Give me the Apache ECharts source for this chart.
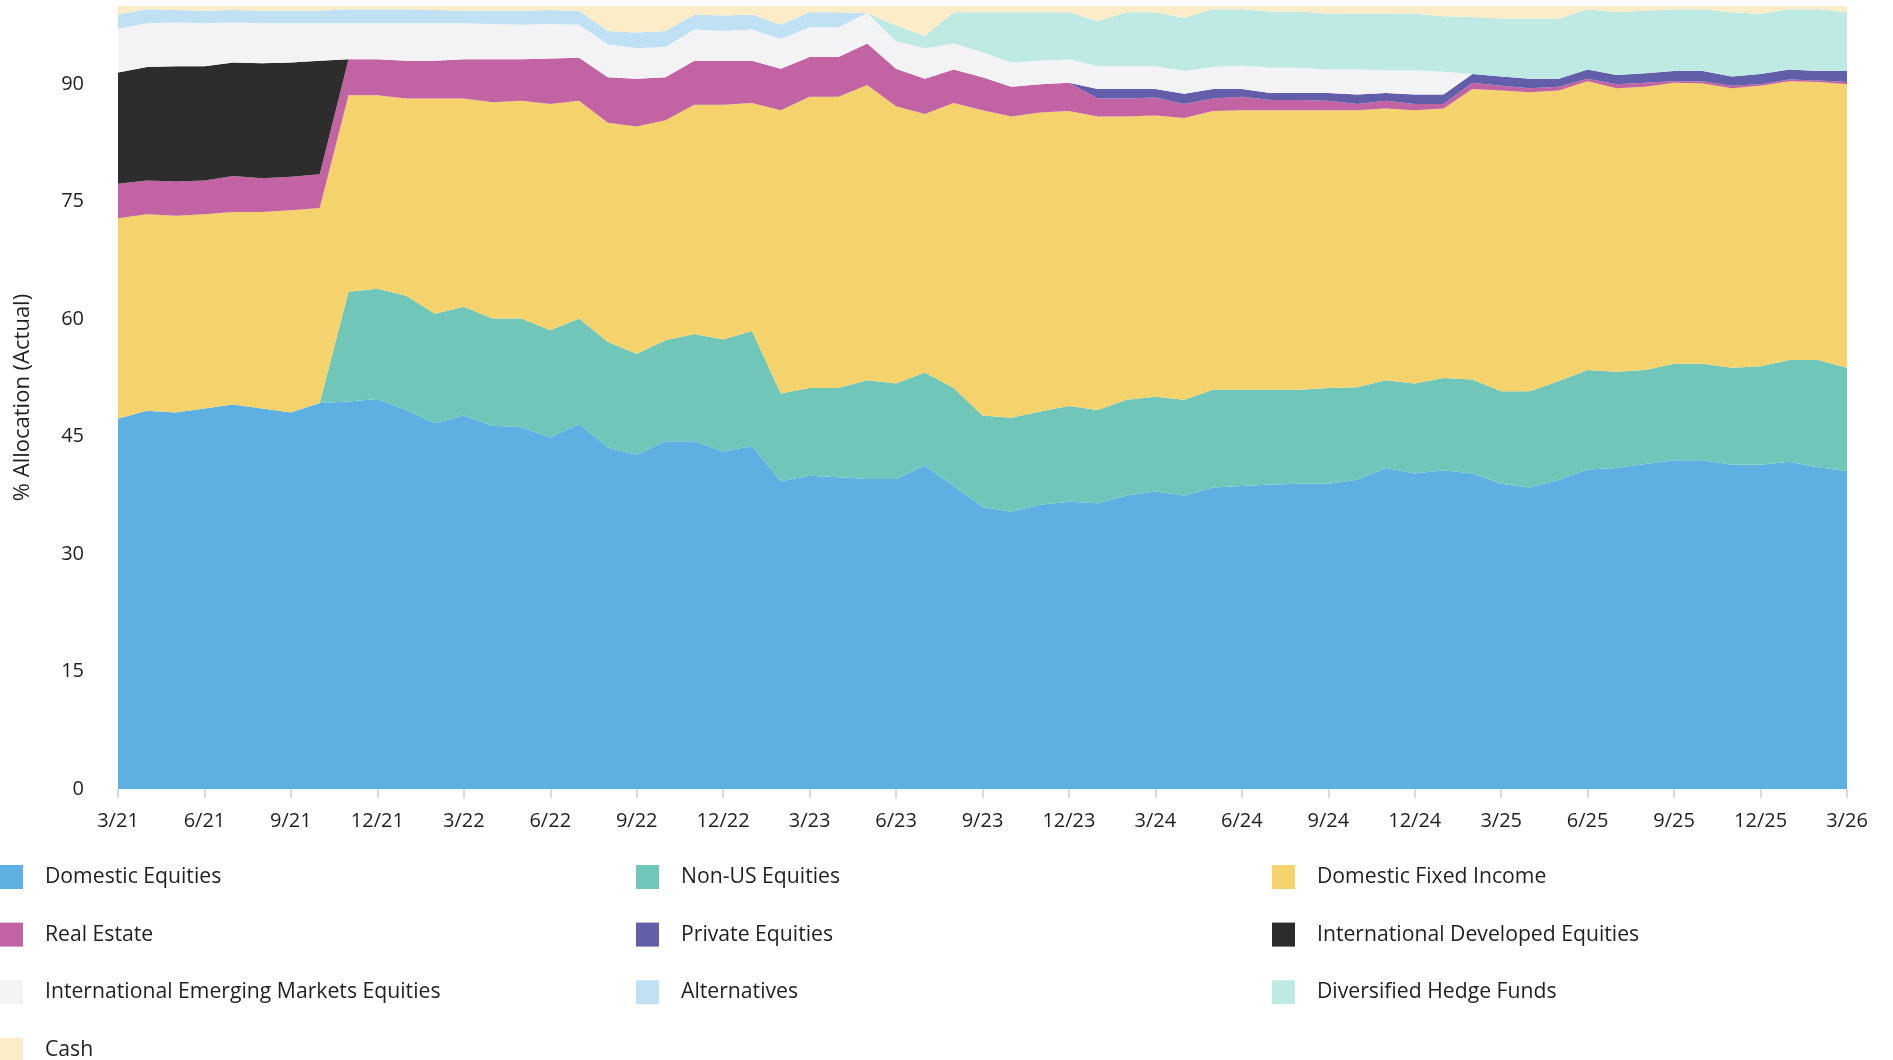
<!DOCTYPE html>
<html>
<head>
<meta charset="utf-8">
<title>% Allocation (Actual)</title>
<script src="https://cdn.jsdelivr.net/npm/echarts@6/dist/echarts.min.js"></script>
<style>
  html, body { margin: 0; padding: 0; background: #fff; }
  #myChart { width: 1893px; height: 1060px; }
</style>
</head>
<body>
<div id="myChart"></div>
<script>
// month labels, 3/21 .. 3/26
const months = [
  '3/21', '4/21', '5/21', '6/21', '7/21', '8/21', '9/21', '10/21', '11/21', '12/21',
  '1/22', '2/22', '3/22', '4/22', '5/22', '6/22', '7/22', '8/22', '9/22', '10/22', '11/22', '12/22',
  '1/23', '2/23', '3/23', '4/23', '5/23', '6/23', '7/23', '8/23', '9/23', '10/23', '11/23', '12/23',
  '1/24', '2/24', '3/24', '4/24', '5/24', '6/24', '7/24', '8/24', '9/24', '10/24', '11/24', '12/24',
  '1/25', '2/25', '3/25', '4/25', '5/25', '6/25', '7/25', '8/25', '9/25', '10/25', '11/25', '12/25',
  '1/26', '2/26', '3/26'
]

// allocation in %, bottom layer first
const domesticEquities = [
  47.3, 48.3, 48.1, 48.6, 49.1, 48.6, 48.1, 49.3, 49.5, 49.8,
  48.4, 46.7, 47.7, 46.4, 46.2, 44.9, 46.6, 43.6, 42.7, 44.4,
  44.4, 43.1, 43.8, 39.3, 40.0, 39.8, 39.6, 39.6, 41.3, 38.7,
  36.0, 35.4, 36.3, 36.7, 36.5, 37.5, 38.0, 37.5, 38.5, 38.7,
  38.9, 39.0, 39.0, 39.5, 41.0, 40.3, 40.7, 40.3, 39.0, 38.5,
  39.5, 40.8, 41.0, 41.5, 42.0, 42.0, 41.4, 41.4, 41.8, 41.1,
  40.6
]
const nonUsEquities = [
  0, 0, 0, 0, 0, 0, 0, 0, 14.0, 14.1,
  14.6, 14.0, 13.9, 13.7, 13.9, 13.7, 13.5, 13.5, 12.9, 12.9,
  13.7, 14.3, 14.7, 11.2, 11.2, 11.4, 12.6, 12.2, 11.9, 12.5,
  11.7, 12.0, 11.9, 12.2, 11.9, 12.2, 12.1, 12.2, 12.5, 12.3,
  12.1, 12.0, 12.2, 11.8, 11.2, 11.5, 11.8, 12.0, 11.8, 12.3,
  12.6, 12.7, 12.3, 12.0, 12.3, 12.3, 12.4, 12.6, 13.0, 13.7,
  13.2
]
const domesticFixedIncome = [
  25.6, 25.1, 25.1, 24.8, 24.6, 25.1, 25.8, 24.9, 25.1, 24.7,
  25.2, 27.5, 26.6, 27.6, 27.8, 28.9, 27.8, 28.0, 29.0, 28.1,
  29.3, 30.0, 29.1, 36.2, 37.2, 37.2, 37.7, 35.4, 33.0, 36.4,
  39.0, 38.5, 38.2, 37.7, 37.5, 36.2, 35.9, 36.0, 35.6, 35.7,
  35.7, 35.7, 35.5, 35.4, 34.7, 34.9, 34.4, 37.1, 38.4, 38.2,
  37.1, 36.9, 36.2, 36.2, 35.9, 35.8, 35.7, 35.8, 35.6, 35.5,
  36.2
]
const realEstate = [
  4.4, 4.3, 4.4, 4.3, 4.6, 4.3, 4.3, 4.3, 4.6, 4.6,
  4.8, 4.8, 5.0, 5.5, 5.3, 5.8, 5.5, 5.8, 6.1, 5.5,
  5.6, 5.6, 5.4, 5.3, 5.1, 5.1, 5.3, 4.8, 4.5, 4.3,
  4.2, 3.8, 3.6, 3.6, 2.3, 2.3, 2.3, 1.8, 1.6, 1.7,
  1.3, 1.3, 1.2, 0.8, 1.0, 0.8, 0.6, 0.8, 0.6, 0.5,
  0.5, 0.3, 0.5, 0.5, 0.2, 0.3, 0.3, 0.2, 0.2, 0.2,
  0.3
]
const privateEquities = [
  0, 0, 0, 0, 0, 0, 0, 0, 0, 0,
  0, 0, 0, 0, 0, 0, 0, 0, 0, 0,
  0, 0, 0, 0, 0, 0, 0, 0, 0, 0,
  0, 0, 0, 0, 1.2, 1.2, 1.1, 1.3, 1.2, 1.0,
  0.9, 0.9, 1.0, 1.2, 1.0, 1.2, 1.2, 1.1, 1.2, 1.2,
  1.0, 1.2, 1.2, 1.2, 1.3, 1.3, 1.2, 1.3, 1.3, 1.2,
  1.4
]
const intlDevelopedEquities = [
  14.2, 14.5, 14.7, 14.6, 14.5, 14.7, 14.6, 14.5, 0, 0,
  0, 0, 0, 0, 0, 0, 0, 0, 0, 0,
  0, 0, 0, 0, 0, 0, 0, 0, 0, 0,
  0, 0, 0, 0, 0, 0, 0, 0, 0, 0,
  0, 0, 0, 0, 0, 0, 0, 0, 0, 0,
  0, 0, 0, 0, 0, 0, 0, 0, 0, 0,
  0
]
const intlEmergingEquities = [
  5.6, 5.6, 5.6, 5.5, 5.1, 5.1, 5.0, 4.8, 4.6, 4.6,
  4.8, 4.8, 4.6, 4.5, 4.4, 4.4, 4.2, 4.2, 3.9, 3.9,
  4.0, 3.8, 4.0, 3.8, 3.8, 3.8, 3.9, 3.5, 3.9, 3.3,
  3.2, 3.1, 3.0, 3.0, 2.9, 2.9, 2.9, 2.9, 2.8, 3.0,
  3.2, 3.2, 3.0, 3.2, 2.9, 3.1, 2.9, 0, 0, 0,
  0, 0, 0, 0, 0, 0, 0, 0, 0, 0,
  0
]
const alternatives = [
  1.8, 1.8, 1.6, 1.6, 1.6, 1.6, 1.6, 1.6, 1.8, 1.8,
  1.8, 1.7, 1.6, 1.7, 1.8, 1.8, 1.8, 1.7, 2.0, 2.0,
  1.9, 2.0, 1.9, 1.8, 1.9, 1.9, 0, 0, 0, 0,
  0, 0, 0, 0, 0, 0, 0, 0, 0, 0,
  0, 0, 0, 0, 0, 0, 0, 0, 0, 0,
  0, 0, 0, 0, 0, 0, 0, 0, 0, 0,
  0
]
const hedgeFunds = [
  0, 0, 0, 0, 0, 0, 0, 0, 0, 0,
  0, 0, 0, 0, 0, 0, 0, 0, 0, 0,
  0, 0, 0, 0, 0, 0, 0, 2.0, 1.6, 4.0,
  5.1, 6.4, 6.2, 6.0, 5.8, 6.9, 6.9, 6.8, 7.4, 7.2,
  7.2, 7.2, 7.1, 7.1, 7.2, 7.2, 7.1, 7.3, 7.4, 7.7,
  7.7, 7.7, 8.0, 8.0, 7.9, 7.9, 8.2, 7.7, 7.7, 7.9,
  7.5
]
const cash = [
  1.1, 0.4, 0.5, 0.6, 0.5, 0.6, 0.6, 0.6, 0.4, 0.4,
  0.4, 0.5, 0.6, 0.6, 0.6, 0.5, 0.6, 3.2, 3.4, 3.2,
  1.1, 1.2, 1.1, 2.4, 0.8, 0.8, 0.9, 2.5, 3.8, 0.8,
  0.8, 0.8, 0.8, 0.8, 1.9, 0.8, 0.8, 1.5, 0.4, 0.4,
  0.7, 0.7, 1.0, 1.0, 1.0, 1.0, 1.3, 1.4, 1.6, 1.6,
  1.6, 0.4, 0.8, 0.6, 0.4, 0.4, 0.8, 1.0, 0.4, 0.4,
  0.8
]

const layers = [
  { name: 'Domestic Equities', data: domesticEquities, color: '#5eb0e2' },
  { name: 'Non-US Equities', data: nonUsEquities, color: '#70c7b9' },
  { name: 'Domestic Fixed Income', data: domesticFixedIncome, color: '#f5d36c' },
  { name: 'Real Estate', data: realEstate, color: '#c263a4' },
  { name: 'Private Equities', data: privateEquities, color: '#635ea9' },
  { name: 'International Developed Equities', data: intlDevelopedEquities, color: '#2d2d2d' },
  { name: 'International Emerging Markets Equities', data: intlEmergingEquities, color: '#f3f3f5' },
  { name: 'Alternatives', data: alternatives, color: '#bfe1f3' },
  { name: 'Diversified Hedge Funds', data: hedgeFunds, color: '#bfe9e3' },
  { name: 'Cash', data: cash, color: '#fcecc8' }
]

const font = '"Open Sans", "Noto Sans", sans-serif'

// legend laid out in three columns
function legendColumn(left, names) {
  return {
    orient: 'vertical',
    left: left,
    top: 865,
    height: 240,
    padding: 0,
    itemWidth: 23,
    itemHeight: 24,
    itemGap: 33.6,
    icon: 'rect',
    selectedMode: false,
    data: names,
    textStyle: { fontFamily: font, fontSize: 21.2, color: '#1f1f1f', padding: [0, 0, 0, 17] }
  }
}

const myChart = echarts.init(document.getElementById('myChart'))
myChart.setOption({
  backgroundColor: '#fff',
  animation: false,
  grid: { left: 118, right: 46, top: 6, bottom: 271 },
  legend: [
    legendColumn(0, ['Domestic Equities', 'Real Estate', 'International Emerging Markets Equities', 'Cash']),
    legendColumn(636, ['Non-US Equities', 'Private Equities', 'Alternatives']),
    legendColumn(1272, ['Domestic Fixed Income', 'International Developed Equities', 'Diversified Hedge Funds'])
  ],
  xAxis: {
    type: 'category',
    boundaryGap: false,
    data: months,
    offset: 4,
    axisLine: { show: false },
    axisTick: { interval: 2, length: 9, lineStyle: { color: '#d9d9d9', width: 2 } },
    axisLabel: { interval: 2, margin: 18, fontFamily: font, fontSize: 20, color: '#1f1f1f' },
    splitLine: { show: false }
  },
  yAxis: {
    type: 'value',
    min: 0,
    max: 100,
    interval: 15,
    name: '% Allocation (Actual)',
    nameLocation: 'middle',
    nameGap: 84,
    nameTextStyle: { fontFamily: font, fontSize: 22, color: '#1f1f1f' },
    axisLine: { show: false },
    axisTick: { show: false },
    splitLine: { show: false },
    axisLabel: { showMaxLabel: false, margin: 34, fontFamily: font, fontSize: 20, color: '#1f1f1f' }
  },
  series: layers.map(l => ({
    name: l.name,
    type: 'line',
    stack: 'total',
    data: l.data,
    color: l.color,
    symbol: 'none',
    lineStyle: { width: 0 },
    areaStyle: { color: l.color, opacity: 1 },
    emphasis: { disabled: true }
  }))
})
window.addEventListener('resize', () => { myChart.resize() })
</script>
</body>
</html>
